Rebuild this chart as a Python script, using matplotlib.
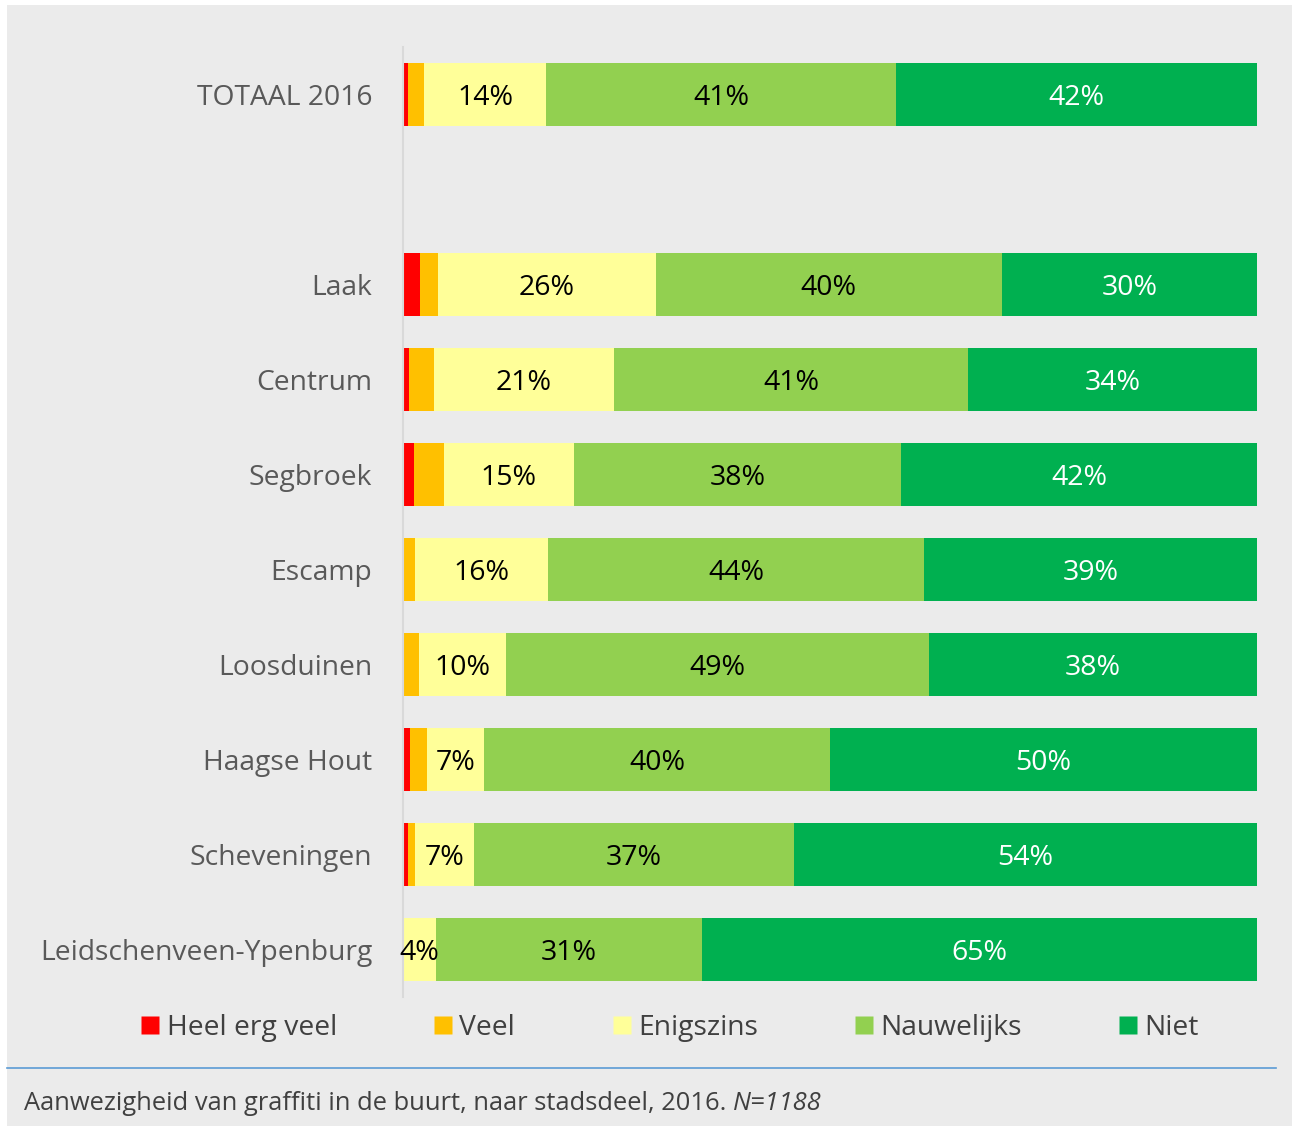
import matplotlib
matplotlib.use("Agg")
import matplotlib.pyplot as plt
from matplotlib.patches import Rectangle
from matplotlib.lines import Line2D
import numpy as np

plt.rcParams['font.family'] = ['Open Sans', 'DejaVu Sans']

categories = ["TOTAAL 2016", "", "Laak", "Centrum", "Segbroek", "Escamp",
              "Loosduinen", "Haagse Hout", "Scheveningen", "Leidschenveen-Ypenburg"]
series_names = ["Heel erg veel", "Veel", "Enigszins", "Nauwelijks", "Niet"]
heel_erg_veel = [0.6, None, 2.0, 0.7, 1.3, 0.0, 0.0, 0.8, 0.6, 0.0]
veel          = [1.9, None, 2.1, 2.9, 3.5, 1.4, 1.9, 2.0, 0.8, 0.0]
enigszins     = [14.3, None, 25.5, 21.1, 15.2, 15.6, 10.2, 6.7, 6.9, 3.9]
nauwelijks    = [40.9, None, 40.5, 41.5, 38.3, 44.0, 49.5, 40.5, 37.5, 31.1]
niet          = [42.3, None, 29.9, 33.8, 41.7, 39.0, 38.4, 50.0, 54.2, 65.0]
labels_enig = ["14%", "", "26%", "21%", "15%", "16%", "10%", "7%", "7%", "4%"]
labels_nauw = ["41%", "", "40%", "41%", "38%", "44%", "49%", "40%", "37%", "31%"]
labels_niet = ["42%", "", "30%", "34%", "42%", "39%", "38%", "50%", "54%", "65%"]

colors = ["#FF0000", "#FFC000", "#FFFF99", "#92D050", "#00B050"]
bg = "#EBEBEB"

W, H = 1296, 1126
fig = plt.figure(figsize=(W/100, H/100), dpi=100, facecolor="white")
fig.patches.append(Rectangle((7/W, 0), (1292-7)/W, (1126-5)/H, transform=fig.transFigure,
                             facecolor=bg, edgecolor="none", zorder=-10))

ax = fig.add_axes([403/W, 1-997/H, (1257-403)/W, (997-47)/H])
ax.set_facecolor(bg)
ax.patch.set_alpha(0)

series = [heel_erg_veel, veel, enigszins, nauwelijks, niet]
y = np.arange(len(categories))
idx = [i for i, c in enumerate(categories) if c]
left = np.zeros(len(idx))
bars = []
for s, col, name in zip(series, colors, series_names):
    vals = np.array([s[i] for i in idx], dtype=float)
    ax.barh([y[i] for i in idx], vals, left=left, height=0.665, color=col,
            edgecolor="none", label=name)
    bars.append((vals, left.copy()))
    left = left + vals

fs = 20.5
for lab_list, (vals, lft), tc in zip([labels_enig, labels_nauw, labels_niet], bars[2:],
                                     ["black", "black", "white"]):
    for k, i in enumerate(idx):
        ax.text(lft[k] + vals[k]/2, y[i], lab_list[i], ha="center", va="center_baseline",
                fontsize=fs, color=tc)

ax.set_xlim(0, 100)
ax.set_ylim(9.5, -0.5)
ax.set_yticks(y)
ax.set_yticklabels(categories, fontsize=20.3, color="#595959")
ax.tick_params(axis="y", length=0, pad=22)
ax.set_xticks([])
for sp in ["top", "right", "bottom"]:
    ax.spines[sp].set_visible(False)
ax.spines["left"].set_color("#D9D9D9")
ax.spines["left"].set_linewidth(1.5)

handles = [Line2D([], [], marker="s", linestyle="none", markersize=13,
                  markerfacecolor=c, markeredgecolor="none") for c in colors]
leg = fig.legend(handles, series_names, loc="center", ncol=5,
                 bbox_to_anchor=(670/W, 1-1028/H), frameon=False,
                 fontsize=20.3, handlelength=0.65, handletextpad=0.25,
                 columnspacing=3.45, labelcolor="#404040")

fig.add_artist(Line2D([7/W, 1276/W], [1-1068/H, 1-1068/H], transform=fig.transFigure,
                      color="#5B9BD5", linewidth=1.2))
cap = fig.text(24/W, 1-1103/H, "Aanwezigheid van graffiti in de buurt, naar stadsdeel, 2016. ",
               fontsize=18.4, color="#404040", va="center", ha="left")
fig.canvas.draw()
r = cap.get_window_extent()
fig.text(r.x1/W, 1-1103/H, "N=1188", fontsize=18.4, color="#404040", va="center",
         ha="left", style="italic")

fig.savefig("out.png", dpi=100, facecolor="white")
